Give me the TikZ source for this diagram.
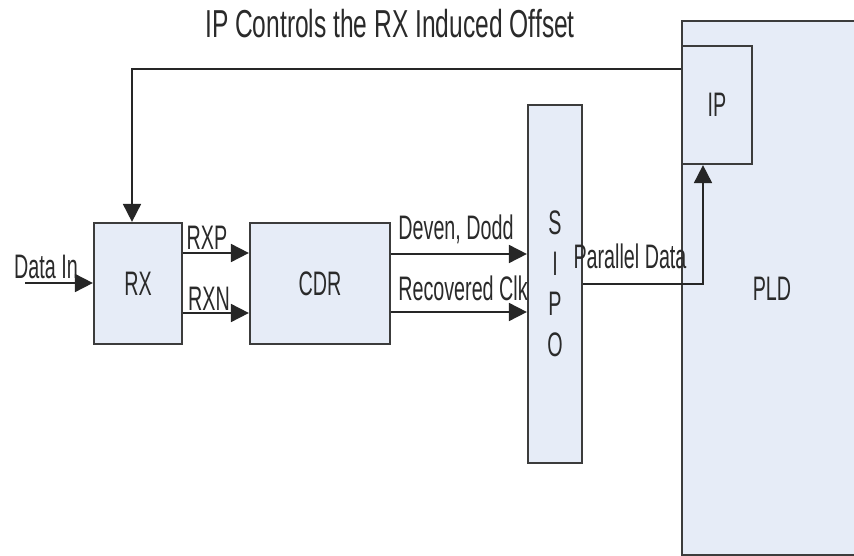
\documentclass[tikz,border=0pt]{standalone}
\usepackage{fontspec}
\setmainfont{Liberation Sans}[FakeStretch=0.58]
\newfontfamily\titlefont{Liberation Sans}[FakeStretch=0.63]
\usetikzlibrary{arrows.meta}
\definecolor{boxfill}{HTML}{E6ECF7}
\definecolor{boxline}{HTML}{3C3C3C}
\definecolor{txt}{HTML}{2A2A2A}
\begin{document}
\begin{tikzpicture}[x=1pt,y=-1pt,
  box/.style={draw=boxline, line width=2.2pt, fill=boxfill, inner sep=0pt, text=txt, font=\fontsize{34}{40.5}\selectfont},
  lbl/.style={text=txt, inner sep=0pt, anchor=base, font=\fontsize{34}{40}\selectfont},
  conn/.style={draw=black!85, line width=1.8pt},
  arr/.style={conn, -{Triangle[length=18pt,width=18pt]}}]
\useasboundingbox[fill=white] (0,0) rectangle (854,556);
\clip (0,0) rectangle (854,556);
% boxes
\node[box, minimum width=240pt, minimum height=534pt] (pld) at (802,288) {};
\node[lbl] (pldtxt) at (772,300) {PLD};
\node[box, minimum width=70pt, minimum height=118pt] (ip) at (717,105) {IP};
\node[box, minimum width=88pt, minimum height=121pt] (rx) at (138,283.5) {RX};
\node[box, minimum width=140pt, minimum height=121pt] (cdr) at (320,283.5) {CDR};
\node[box, minimum width=54pt, minimum height=358pt, align=center] (sipo) at (555,284) {S\\I\\P\\O};
% title
\node[text=txt, inner sep=0pt, anchor=base, font=\titlefont\fontsize{39}{45}\selectfont] (title) at (390,38) {IP Controls the RX Induced Offset};
% helper coordinates
\coordinate (din) at (25,283);
\coordinate (yp) at (0,253);
\coordinate (yn) at (0,313);
\coordinate (yd) at (0,254);
\coordinate (yc) at (0,312);
\coordinate (ypar) at (0,284);
\coordinate (xpar) at (703,0);
\coordinate (fby) at (0,69);
\coordinate (fbx) at (132,0);
% connectors
\draw[arr] (din) -- (din -| rx.west);
\draw[arr] (rx.east |- yp) -- (cdr.west |- yp);
\draw[arr] (rx.east |- yn) -- (cdr.west |- yn);
\draw[arr] (cdr.east |- yd) -- (sipo.west |- yd);
\draw[arr] (cdr.east |- yc) -- (sipo.west |- yc);
\draw[arr] (sipo.east |- ypar) -| (ip.south -| xpar);
\draw[arr] (ip.west |- fby) -| (fbx |- rx.north);
% labels
\node[lbl] (dinl) at (46,278) {Data In};
\node[lbl] (rxpl) at (207,250) {RXP};
\node[lbl] (rxnl) at (209,310) {RXN};
\node[lbl] (dvl) at (456,240) {Deven, Dodd};
\node[lbl] (rcl) at (463,300) {Recovered Clk};
\node[lbl] (pdl) at (630,268) {Parallel Data};
\end{tikzpicture}
\end{document}
